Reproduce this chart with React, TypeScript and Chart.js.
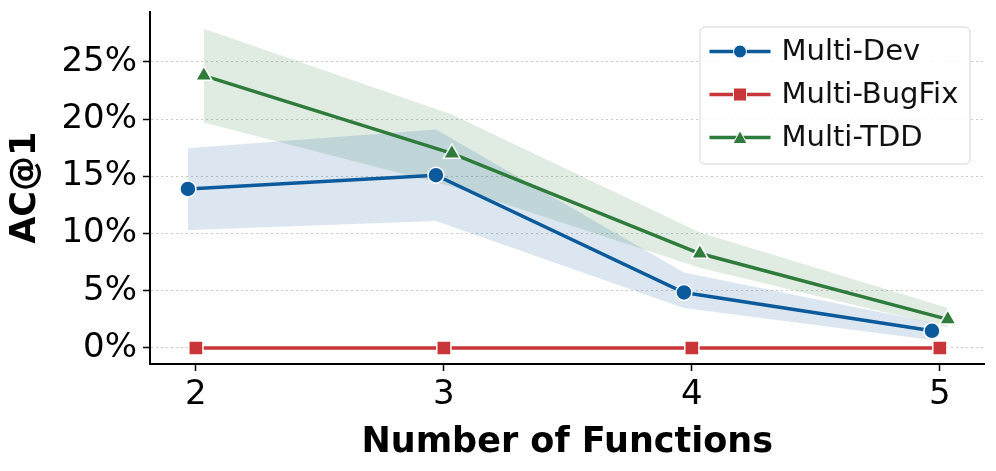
import React, { useEffect, useRef } from "react";
import { Chart, registerables } from "chart.js";

Chart.register(...registerables);

const categories = [2, 3, 4, 5];
const seriesNames = ["Multi-Dev", "Multi-BugFix", "Multi-TDD"];
const devValues = [13.9, 15.1, 4.85, 1.5];
const bugfixValues = [0, 0, 0, 0];
const tddValues = [23.8, 17.0, 8.25, 2.5];
const devUpper = [17.45, 19.1, 6.6, 2.2];
const devLower = [10.3, 11.1, 3.5, 0.7];
const tddUpper = [27.9, 20.4, 10.1, 3.5];
const tddLower = [19.7, 14.1, 7.0, 1.8];
const yTicks = [0, 5, 10, 15, 20, 25];

const BLUE = "#0B5A9C";
const RED = "#C83639";
const GREEN = "#2E7B3B";
const FONT = "'DejaVu Sans', sans-serif";

const dodge = [-0.032, 0, 0.032];

const pts = (vals: number[], off: number) =>
  categories.map((c, i) => ({ x: c + off, y: vals[i] }));

const legendPlugin = {
  id: "customLegend",
  afterDraw(chart: any) {
    const ctx = chart.ctx as CanvasRenderingContext2D;
    const area = chart.chartArea;
    const w = 270;
    const h = 137;
    const x0 = area.right - 15 - w;
    const y0 = area.top + 15;
    ctx.save();
    ctx.beginPath();
    (ctx as any).roundRect(x0 + 0.5, y0 + 0.5, w, h, 5);
    ctx.fillStyle = "rgba(255,255,255,0.85)";
    ctx.fill();
    ctx.strokeStyle = "#d5d5d5";
    ctx.lineWidth = 1;
    ctx.stroke();
    const colors = [BLUE, RED, GREEN];
    const styles = ["circle", "rect", "triangle"];
    for (let i = 0; i < 3; i++) {
      const cy = y0 + 25 + i * 43;
      ctx.strokeStyle = colors[i];
      ctx.lineWidth = 3.5;
      ctx.beginPath();
      ctx.moveTo(x0 + 10, cy);
      ctx.lineTo(x0 + 71, cy);
      ctx.stroke();
      ctx.fillStyle = colors[i];
      ctx.strokeStyle = "#fff";
      ctx.lineWidth = 1;
      const mx = x0 + 40.5;
      ctx.beginPath();
      if (styles[i] === "circle") {
        ctx.arc(mx, cy, 6.5, 0, Math.PI * 2);
      } else if (styles[i] === "rect") {
        ctx.rect(mx - 6.5, cy - 6.5, 13, 13);
      } else {
        ctx.moveTo(mx, cy - 7);
        ctx.lineTo(mx - 7, cy + 6);
        ctx.lineTo(mx + 7, cy + 6);
        ctx.closePath();
      }
      ctx.fill();
      ctx.stroke();
      ctx.fillStyle = "#111";
      ctx.font = `29px ${FONT}`;
      ctx.textBaseline = "middle";
      ctx.textAlign = "left";
      ctx.fillText(seriesNames[i], x0 + 82, cy + 1);
    }
    ctx.restore();
  },
};

export default function App() {
  const ref = useRef<HTMLCanvasElement | null>(null);
  useEffect(() => {
    if (!ref.current) return;
    const lineDs = (label: string, vals: number[], off: number, color: string, style: string, r: number) => ({
      label,
      data: pts(vals, off),
      borderColor: color,
      backgroundColor: color,
      borderWidth: 3.5,
      pointStyle: style,
      pointRadius: r,
      pointBorderColor: "#fff",
      pointBorderWidth: 1.5,
      pointBackgroundColor: color,
      fill: false,
      order: 0,
      tension: 0,
    });
    const bandDs = (label: string, vals: number[], off: number, fill: any, bg: string) => ({
      label,
      data: pts(vals, off),
      borderColor: "rgba(0,0,0,0)",
      borderWidth: 0,
      pointRadius: 0,
      backgroundColor: bg,
      fill,
      order: 5,
      tension: 0,
    });
    const chart = new Chart(ref.current, {
      type: "line",
      data: {
        datasets: [
          lineDs(seriesNames[0], devValues, dodge[0], BLUE, "circle", 8),
          lineDs(seriesNames[1], bugfixValues, dodge[1], RED, "rect", 10),
          lineDs(seriesNames[2], tddValues, dodge[2], GREEN, "triangle", 9.5),
          bandDs("devUpper", devUpper, dodge[0], false, "rgba(11,90,156,0.15)"),
          bandDs("devLower", devLower, dodge[0], 3, "rgba(11,90,156,0.15)"),
          bandDs("tddUpper", tddUpper, dodge[2], false, "rgba(46,123,59,0.15)"),
          bandDs("tddLower", tddLower, dodge[2], 5, "rgba(46,123,59,0.15)"),
        ] as any,
      },
      options: {
        responsive: false,
        animation: false,
        layout: { padding: { top: 10, right: 11, left: 0, bottom: 0 } },
        plugins: {
          legend: { display: false },
          tooltip: { enabled: false },
        },
        scales: {
          x: {
            type: "linear",
            min: 1.815,
            max: 5.18,
            afterBuildTicks: (axis: any) => {
              axis.ticks = categories.map((v) => ({ value: v }));
            },
            afterFit: (axis: any) => {
              axis.height = 107;
              axis.paddingLeft = 0;
              axis.paddingRight = 0;
            },
            grid: {
              drawOnChartArea: false,
              drawTicks: true,
              tickLength: 7,
              tickColor: "#000",
              tickWidth: 1.5,
            },
            border: { display: true, color: "#000", width: 2 },
            ticks: {
              color: "#000",
              font: { family: FONT, size: 34 },
              padding: 4,
              maxRotation: 0,
              callback: (v: any) => String(v),
            },
            title: {
              display: true,
              text: "Number of Functions",
              color: "#000",
              font: { family: FONT, size: 35, weight: "bold" },
              padding: { top: 0, bottom: 7 },
            },
          },
          y: {
            type: "linear",
            min: -1.4,
            max: 29.4,
            afterBuildTicks: (axis: any) => {
              axis.ticks = yTicks.map((v) => ({ value: v }));
            },
            afterFit: (axis: any) => {
              axis.width = 150;
              axis.paddingTop = 0;
              axis.paddingBottom = 0;
            },
            grid: {
              color: "#c8c8c8",
              lineWidth: 1,
              tickLength: 7,
              tickColor: "#000",
              tickWidth: 1.5,
              tickBorderDash: [],
            },
            border: { display: true, color: "#000", width: 2, dash: [2, 3] },
            ticks: {
              color: "#000",
              font: { family: FONT, size: 34 },
              padding: 6,
              callback: (v: any) => `${v}%`,
            },
            title: {
              display: true,
              text: "AC@1",
              color: "#000",
              font: { family: FONT, size: 35, weight: "bold" },
              padding: { top: 5, bottom: 0 },
            },
          },
        },
      },
      plugins: [legendPlugin],
    } as any);
    return () => chart.destroy();
  }, []);
  return (
    <div style={{ position: "absolute", left: 0, top: 0, width: 996, height: 471, background: "#fff" }}>
      <canvas ref={ref} width={996} height={471} style={{ width: 996, height: 471 }} />
    </div>
  );
}
